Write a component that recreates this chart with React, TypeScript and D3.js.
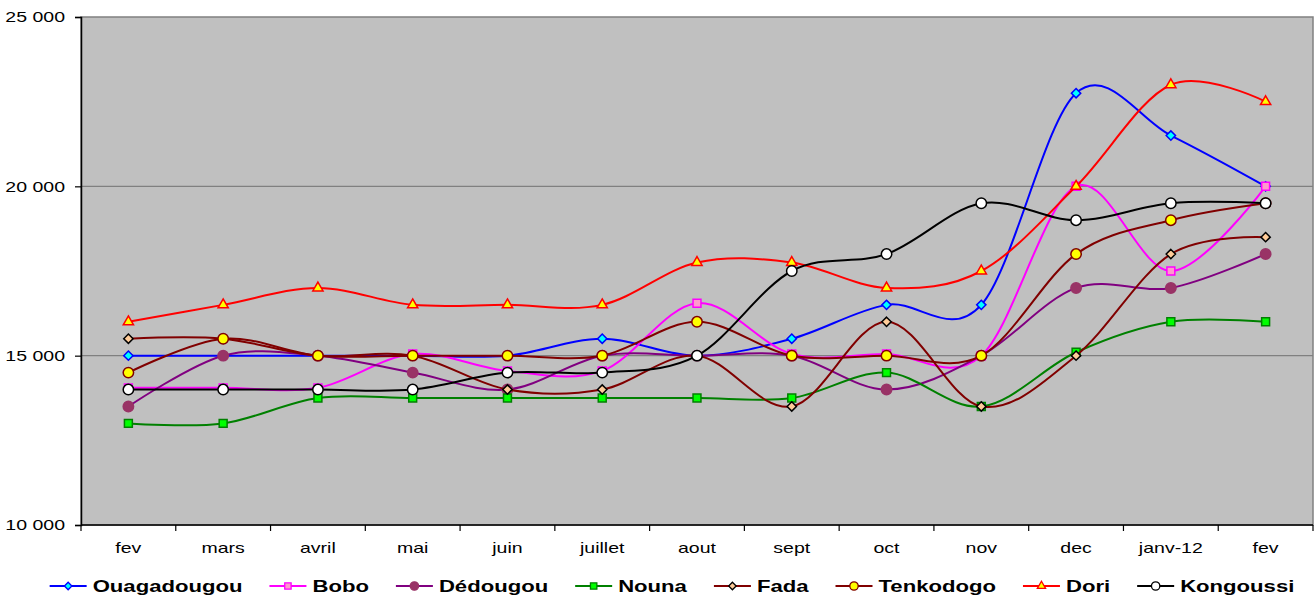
import React, { useRef, useEffect } from 'react';
import * as d3 from 'd3';

// Months on the x axis
const months = ['fev', 'mars', 'avril', 'mai', 'juin', 'juillet', 'aout', 'sept', 'oct', 'nov', 'dec', 'janv-12', 'fev'];

// Series values
const ouagadougou = [15000, 15000, 15000, 15000, 15000, 15500, 15000, 15500, 16500, 16500, 22750, 21500, 20000];
const bobo = [14050, 14050, 14050, 15050, 14550, 14550, 16550, 15050, 15050, 15000, 20000, 17500, 20000];
const dedougou = [13500, 15000, 15000, 14500, 14000, 15000, 15000, 15000, 14000, 15000, 17000, 17000, 18000];
const nouna = [13000, 13000, 13750, 13750, 13750, 13750, 13750, 13750, 14500, 13500, 15100, 16000, 16000];
const fada = [15500, 15500, 15000, 15000, 14000, 14000, 15000, 13500, 16000, 13500, 15000, 18000, 18500];
const tenkodogo = [14500, 15500, 15000, 15000, 15000, 15000, 16000, 15000, 15000, 15000, 18000, 19000, 19500];
const dori = [16000, 16500, 17000, 16500, 16500, 16500, 17750, 17750, 17000, 17500, 20000, 23000, 22500];
const kongoussi = [14000, 14000, 14000, 14000, 14500, 14500, 15000, 17500, 18000, 19500, 19000, 19500, 19500];

const yTicks = [10000, 15000, 20000, 25000];

const series = [
  { name: 'Ouagadougou', values: ouagadougou, line: '#0000FF', fill: '#00FFFF', stroke: '#0000FF', shape: 'diamond' },
  { name: 'Bobo', values: bobo, line: '#FF00FF', fill: '#FF99CC', stroke: '#FF00FF', shape: 'square' },
  { name: 'Dédougou', values: dedougou, line: '#800080', fill: '#993366', stroke: '#993366', shape: 'circle' },
  { name: 'Nouna', values: nouna, line: '#008000', fill: '#00FF00', stroke: '#008000', shape: 'square' },
  { name: 'Fada', values: fada, line: '#800000', fill: '#FFCC99', stroke: '#000000', shape: 'diamond' },
  { name: 'Tenkodogo', values: tenkodogo, line: '#800000', fill: '#FFFF00', stroke: '#800000', shape: 'circle' },
  { name: 'Dori', values: dori, line: '#FF0000', fill: '#FFFF00', stroke: '#FF0000', shape: 'triangle' },
  { name: 'Kongoussi', values: kongoussi, line: '#000000', fill: '#FFFFFF', stroke: '#000000', shape: 'circle' },
];

const symbolFor = (shape: string, k = 1) => {
  if (shape === 'diamond') return d3.symbol().type(d3.symbolDiamond2).size(55 * k);
  if (shape === 'square') return d3.symbol().type(d3.symbolSquare2).size(80 * k);
  if (shape === 'triangle') return d3.symbol().type(d3.symbolTriangle2).size(75 * k);
  return d3.symbol().type(d3.symbolCircle).size(85 * k);
};

// the reference's text is drawn wider than the plain font
const STRETCH = 1.3;
const stretch = (sel: any) => {
  sel.each(function (this: SVGTextElement) {
    const w = this.getComputedTextLength();
    this.setAttribute('textLength', String(w * STRETCH));
    this.setAttribute('lengthAdjust', 'spacingAndGlyphs');
  });
};

const App = () => {
  const ref = useRef<SVGSVGElement>(null);

  useEffect(() => {
    const width = 1315;
    const height = 597;
    const left = 81, right = 1313, top = 17, bottom = 525;

    const svg = d3.select(ref.current);
    svg.selectAll('*').remove();
    svg.attr('width', width).attr('height', height);

    const x = d3.scaleBand<number>().domain(months.map((_, i) => i)).range([left, right]);
    const y = d3.scaleLinear().domain([10000, 25000]).range([bottom, top]);
    const cx = (i: number) => (x(i) as number) + x.bandwidth() / 2;

    // plot area
    svg.append('rect')
      .attr('x', left).attr('y', top)
      .attr('width', right - left).attr('height', bottom - top)
      .attr('fill', '#C0C0C0').attr('stroke', '#808080').attr('stroke-width', 1.5);

    // gridlines
    svg.append('g').selectAll('line')
      .data(yTicks.filter(t => t > 10000 && t < 25000))
      .join('line')
      .attr('x1', left).attr('x2', right)
      .attr('y1', d => y(d)).attr('y2', d => y(d))
      .attr('stroke', '#808080').attr('stroke-width', 1.2);

    // y axis
    const yAxis = svg.append('g').attr('transform', `translate(${left},0)`)
      .call(d3.axisLeft(y).tickValues(yTicks).tickSize(6).tickPadding(10)
        .tickFormat(d => d3.format(',')(d as number).replace(',', ' ')));
    yAxis.select('.domain').attr('stroke', '#000').attr('stroke-width', 1.5);
    yAxis.selectAll('line').attr('stroke', '#000').attr('stroke-width', 1.2);
    yAxis.selectAll('text').attr('font-family', 'Liberation Sans, Arial, sans-serif').attr('font-size', 15).attr('fill', '#000').call(stretch);

    // x axis with ticks on band boundaries
    const xg = svg.append('g');
    xg.append('line').attr('x1', left).attr('x2', right).attr('y1', bottom).attr('y2', bottom)
      .attr('stroke', '#000').attr('stroke-width', 1.5);
    xg.selectAll('line.tick')
      .data(d3.range(months.length + 1))
      .join('line')
      .attr('class', 'tick')
      .attr('x1', i => left + i * x.step()).attr('x2', i => left + i * x.step())
      .attr('y1', bottom).attr('y2', bottom + 6)
      .attr('stroke', '#000').attr('stroke-width', 1.2);
    xg.selectAll('text')
      .data(months)
      .join('text')
      .attr('x', (_, i) => cx(i))
      .attr('y', 553)
      .attr('text-anchor', 'middle')
      .attr('font-family', 'Liberation Sans, Arial, sans-serif')
      .attr('font-size', 15)
      .text(d => d)
      .call(stretch);

    // series lines and markers
    const line = d3.line<number>()
      .x((_, i) => cx(i))
      .y(d => y(d))
      .curve(d3.curveCardinal.tension(0));

    series.forEach(s => {
      const g = svg.append('g');
      g.append('path')
        .attr('d', line(s.values))
        .attr('fill', 'none')
        .attr('stroke', s.line)
        .attr('stroke-width', 2);
      g.selectAll('path.m')
        .data(s.values)
        .join('path')
        .attr('class', 'm')
        .attr('transform', (d, i) => `translate(${cx(i)},${y(d)})`)
        .attr('d', symbolFor(s.shape)())
        .attr('fill', s.fill)
        .attr('stroke', s.stroke)
        .attr('stroke-width', 1.5);
    });

    // legend
    const legend = svg.append('g');
    const items = legend.selectAll('g')
      .data(series)
      .join('g');
    items.append('line')
      .attr('x1', 0).attr('x2', 37).attr('y1', 0).attr('y2', 0)
      .attr('stroke', d => d.line).attr('stroke-width', 2);
    items.append('path')
      .attr('transform', 'translate(18.5,0)')
      .attr('d', d => symbolFor(d.shape, 0.65)())
      .attr('fill', d => d.fill)
      .attr('stroke', d => d.stroke)
      .attr('stroke-width', 1.3);
    const widths: number[] = [];
    items.append('text')
      .attr('x', 43).attr('y', 6)
      .attr('font-family', 'Liberation Sans, Arial, sans-serif')
      .attr('font-size', 17)
      .attr('font-weight', 'bold')
      .text(d => d.name)
      .each(function (this: SVGTextElement) {
        widths.push(43 + this.getComputedTextLength() * STRETCH);
      })
      .call(stretch);

    const gap = 27;
    const total = d3.sum(widths) + gap * (widths.length - 1);
    let pos = 672 - total / 2;
    items.each(function (_, i) {
      d3.select(this).attr('transform', `translate(${pos},586)`);
      pos += widths[i] + gap;
    });
  }, []);

  return <svg ref={ref} style={{ position: 'absolute', left: 0, top: 0, display: 'block' }}></svg>;
};

export default App;
